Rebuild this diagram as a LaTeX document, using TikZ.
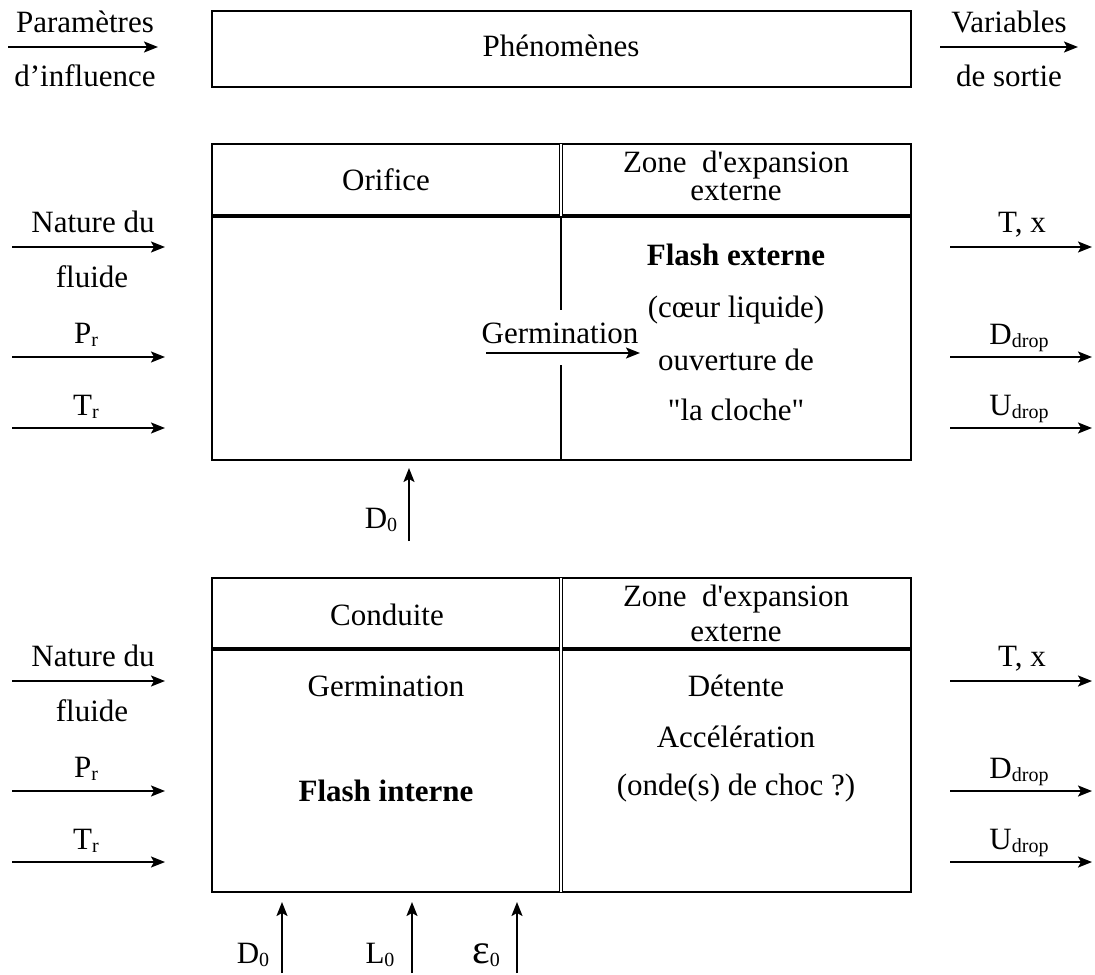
\documentclass[tikz,border=0pt]{standalone}
\usepackage{fontspec}
\setmainfont{Liberation Serif}[Ligatures=TeXOff]
\usetikzlibrary{arrows.meta}
\newcommand{\idx}[1]{\raisebox{-1.8pt}{\fontsize{10}{11}\selectfont #1}}
\begin{document}
\begin{tikzpicture}[x=0.5pt, y=-0.5pt, font=\fontsize{15.5}{18}\selectfont,
    frame/.style={line width=1pt},
    sep/.style={line width=2pt},
    dbl/.style={double, line width=0.6pt, double distance=1pt},
    arr/.style={line width=1pt, -{Stealth[length=7pt, width=5.5pt, inset=1.5pt]}},
    lbl/.style={anchor=base, inner sep=0pt}]
  \useasboundingbox (0,0) rectangle (1095,974);

  % legend line
  \draw[frame] (212,11) rectangle (911,87);
  \node[lbl] (phen) at (561,57) {Phénomènes};
  \node[lbl] (param) at (85,33) {Paramètres};
  \node[lbl] (infl) at (85,87) {d’influence};
  \node[lbl] (var) at (1009,33) {Variables};
  \node[lbl] (sortie) at (1009,87) {de sortie};
  \coordinate (pa) at (8,47);
  \coordinate (pb) at (158,47);
  \coordinate (va) at (940,47);
  \coordinate (vb) at (1078,47);
  \draw[arr] (pa) -- (pb);
  \draw[arr] (va) -- (vb);

  % inputs and outputs, same for both blocks
  \foreach \b/\o in {orif/0, cond/434} {
    \node[lbl] (\b-nat) at (93,232+\o) {Nature du};
    \node[lbl] (\b-flu) at (92,287+\o) {fluide};
    \node[lbl] (\b-pr) at (86,343+\o) {P\idx{r}};
    \node[lbl] (\b-tr) at (86,415+\o) {T\idx{r}};
    \node[lbl] (\b-tx) at (1022,232+\o) {T, x};
    \node[lbl] (\b-dd) at (1019,344+\o) {D\idx{drop}};
    \node[lbl] (\b-ud) at (1019,415+\o) {U\idx{drop}};
    \foreach \i/\y in {1/247, 2/357, 3/428} {
      \coordinate (\b-in\i) at (12,\y+\o);
      \coordinate (\b-to\i) at (165,\y+\o);
      \coordinate (\b-out\i) at (950,\y+\o);
      \coordinate (\b-end\i) at (1092,\y+\o);
      \draw[arr] (\b-in\i) -- (\b-to\i);
      \draw[arr] (\b-out\i) -- (\b-end\i);
    }
  }

  % orifice block
  \draw[frame] (212,144) rectangle (911,460);
  \draw[sep] (212,216) -- (911,216);
  \draw[dbl] (561,144) -- (561,216);
  \draw[line width=1.4pt] (561,216) -- (561,310);
  \draw[line width=1.4pt] (561,365) -- (561,460);
  \node[lbl] (orifice) at (386,190) {Orifice};
  \node[lbl] (zone1) at (736,172) {Zone~~d'expansion};
  \node[lbl] (ext1) at (736,200) {externe};
  \node[lbl] (flext) at (736,265) {\textbf{Flash externe}};
  \node[lbl] (coeur) at (736,317) {(cœur liquide)};
  \node[lbl] (ouv) at (736,370) {ouverture de};
  \node[lbl] (cloche) at (736,420) {"la cloche"};
  \node[lbl] (germ1) at (560,343) {Germination};
  \coordinate (ga) at (486,353);
  \coordinate (gb) at (640,353);
  \draw[arr] (ga) -- (gb);
  \node[lbl] (d0a) at (381,528) {D\idx{0}};
  \coordinate (da) at (409,541);
  \coordinate (db) at (409,468);
  \draw[arr] (da) -- (db);

  % conduite block
  \draw[frame] (212,578) rectangle (911,892);
  \draw[sep] (212,649) -- (911,649);
  \draw[dbl] (561,578) -- (561,892);
  \node[lbl] (conduite) at (387,625) {Conduite};
  \node[lbl] (zone2) at (736,606) {Zone~~d'expansion};
  \node[lbl] (ext2) at (736,641) {externe};
  \node[lbl] (germ2) at (386,696) {Germination};
  \node[lbl] (flint) at (386,801) {\textbf{Flash interne}};
  \node[lbl] (detente) at (736,696) {Détente};
  \node[lbl] (accel) at (736,747) {Accélération};
  \node[lbl] (onde) at (736,795) {(onde(s) de choc ?)};

  % geometry below the pipe
  \node[lbl] (d0b) at (253,963) {D\idx{0}};
  \node[lbl] (l0) at (380,963) {L\idx{0}};
  \node[lbl] (eps0) at (486,963) {{\fontsize{21}{22}\selectfont ε}\idx{0}};
  \foreach \n/\x in {d/282, l/412, e/517} {
    \coordinate (\n-foot) at (\x,973);
    \coordinate (\n-tip) at (\x,902);
    \draw[arr] (\n-foot) -- (\n-tip);
  }
\end{tikzpicture}
\end{document}
